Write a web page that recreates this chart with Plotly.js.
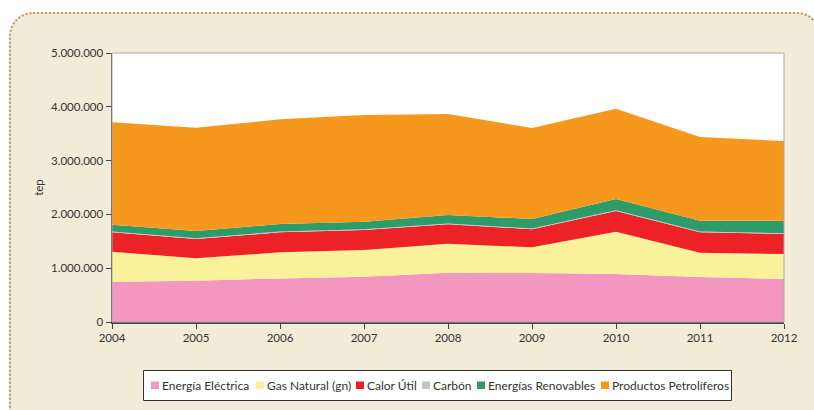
<!DOCTYPE html>
<html><head><meta charset="utf-8">
<script src="https://cdn.plot.ly/plotly-3.0.1.min.js"></script>
<style>
html,body{margin:0;padding:0;width:814px;height:410px;overflow:hidden;background:#fff;}
#frame{position:absolute;left:9px;top:12px;width:812px;height:420px;background:#F2EBD7;border:2px dotted #B8996A;border-radius:24px;box-sizing:border-box;}
#chart{position:absolute;left:0;top:0;width:814px;height:410px;}
</style></head><body>
<div id="frame"></div>
<div id="chart"></div>
<script>
const years = ['2004','2005','2006','2007','2008','2009','2010','2011','2012'];
const energiaElectrica = [749000, 768000, 810000, 840000, 917000, 910000, 892000, 836000, 800000];
const gasNatural = [558000, 416000, 485000, 498000, 538000, 478000, 786000, 452000, 464000];
const calorUtil = [360000, 359000, 372000, 372000, 361000, 335000, 385000, 379000, 372000];
const carbon = [15000, 15000, 15000, 15000, 15000, 15000, 15000, 15000, 15000];
const renovables = [127000, 133000, 140000, 139000, 159000, 176000, 208000, 201000, 232000];
const petroliferos = [1903000, 1921000, 1945000, 1984000, 1876000, 1692000, 1679000, 1556000, 1481000];
const seriesNames = ['Energía Eléctrica','Gas Natural (gn)','Calor Útil','Carbón','Energías Renovables','Productos Petrolíferos'];
const seriesColors = ['#F397C0','#FAF29A','#EC2227','#C3C3C8','#2E9B6A','#F7981E'];
const seriesData = [energiaElectrica, gasNatural, calorUtil, carbon, renovables, petroliferos];
const yTicks = [0,1000000,2000000,3000000,4000000,5000000];

const traces = seriesData.map((d,i)=>({
  type:'scatter', x:years, y:d, name:seriesNames[i], stackgroup:'one',
  mode:'none', fillcolor:seriesColors[i], line:{width:0, color:seriesColors[i]},
  hoverinfo:'skip', showlegend:false
}));

// plot area in pixels: x 112..784, y 53..322
const PL=112, PW=672, PB=322, PH=269;
const px = X => (X-PL)/PW;
const py = Y => (PB-Y)/PH;

// custom legend layout (pixel positions of swatches)
const legendSwatchX = [151, 256, 356, 422, 477, 601];
const shapes = [
  {type:'rect', xref:'paper', yref:'paper', x0:0, x1:1, y0:0, y1:1, line:{color:'#AAAAAA', width:1}, layer:'above'},
  {type:'rect', xref:'paper', yref:'paper', x0:px(143.5), x1:px(731.5), y0:py(400.5), y1:py(370.5),
    fillcolor:'#fff', line:{color:'#333', width:1}, layer:'above'}
];
const annotations = [];
seriesNames.forEach((n,i)=>{
  const sx = legendSwatchX[i];
  shapes.push({type:'rect', xref:'paper', yref:'paper', x0:px(sx), x1:px(sx+8), y0:py(389), y1:py(381.5),
    fillcolor:seriesColors[i], line:{width:0}, layer:'above'});
  annotations.push({xref:'paper', yref:'paper', x:px(sx+9), y:py(385), xanchor:'left', yanchor:'middle',
    text:n, showarrow:false, font:{family:'Lato, "Noto Sans", sans-serif', size:12, color:'#333'}});
});

const font = {family:'Lato, "Noto Sans", sans-serif', size:11.5, color:'#333'};
const layout = {
  width:814, height:410,
  paper_bgcolor:'rgba(0,0,0,0)', plot_bgcolor:'#fff',
  separators:',.',
  margin:{l:112, r:30, t:53, b:88},
  font:font,
  showlegend:false,
  xaxis:{type:'category', range:[0,8], showgrid:false, zeroline:false,
    showline:true, linecolor:'#444', linewidth:1.5, ticks:'outside', ticklen:5, tickcolor:'#444',
    tickfont:font, fixedrange:true},
  yaxis:{range:[0,5000000], tickvals:yTicks, tickformat:',d', showgrid:false, zeroline:false,
    showline:true, linecolor:'#444', linewidth:1.5, ticks:'outside', ticklen:5, tickcolor:'#444',
    tickfont:font, title:{text:'tep', font:font, standoff:5}, fixedrange:true},
  shapes:shapes,
  annotations:annotations
};
Plotly.newPlot('chart', traces, layout, {displayModeBar:false, staticPlot:true});
</script>
</body></html>
